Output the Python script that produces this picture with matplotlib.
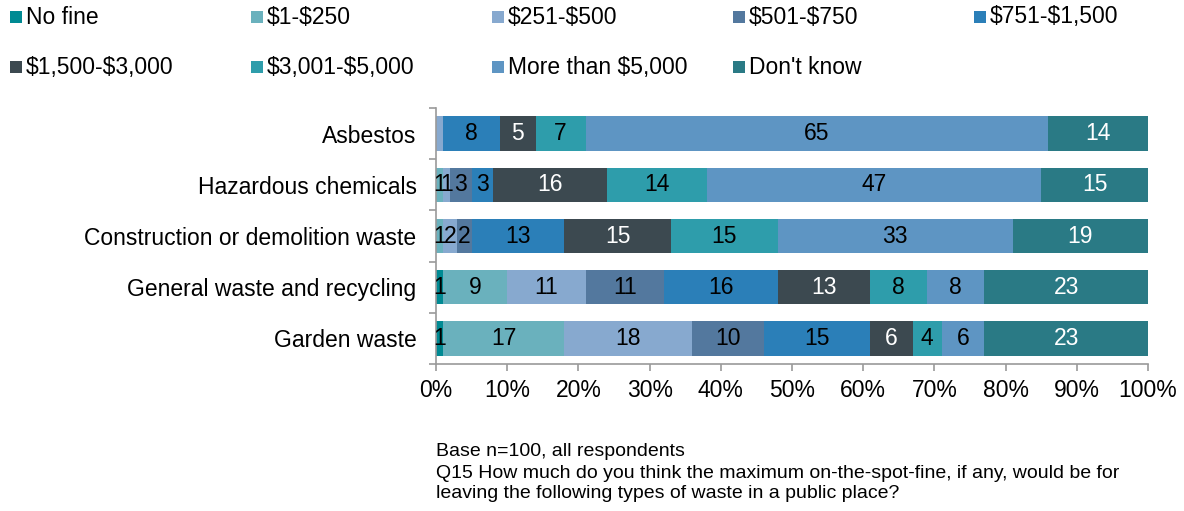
import numpy as np
import matplotlib
matplotlib.use("Agg")
import matplotlib.pyplot as plt
from matplotlib.patches import Rectangle

plt.rcParams['font.family'] = ['Liberation Sans', 'DejaVu Sans']
plt.rcParams['text.parse_math'] = False

# Categories, top to bottom
categories = ["Asbestos", "Hazardous chemicals", "Construction or demolition waste",
              "General waste and recycling", "Garden waste"]

# Fine bands
bands = ["No fine", "$1-$250", "$251-$500", "$501-$750", "$751-$1,500",
         "$1,500-$3,000", "$3,001-$5,000", "More than $5,000", "Don't know"]

# Percent of respondents per band, one list per band (order follows categories)
no_fine = [0, 0, 0, 1, 1]
fine_1_250 = [0, 1, 1, 9, 17]
fine_251_500 = [1, 1, 2, 11, 18]
fine_501_750 = [0, 3, 2, 11, 10]
fine_751_1500 = [8, 3, 13, 16, 15]
fine_1500_3000 = [5, 16, 15, 13, 6]
fine_3001_5000 = [7, 14, 15, 8, 4]
more_than_5000 = [65, 47, 33, 8, 6]
dont_know = [14, 15, 19, 23, 23]

series = [no_fine, fine_1_250, fine_251_500, fine_501_750, fine_751_1500,
          fine_1500_3000, fine_3001_5000, more_than_5000, dont_know]

colors = ["#008a93", "#6ab1bd", "#87a9cf", "#53789e", "#2b7fb8",
          "#3c4950", "#2e9dab", "#5e95c3", "#2a7a85"]
label_colors = ["black"] * 5 + ["white", "black", "black", "white"]

# labels left off on the chart
hidden = {(0, 2)}

fs = 16.5

fig = plt.figure(figsize=(11.84, 5.11), dpi=100)
W, H = 1184, 511
ax = fig.add_axes([436 / W, 1 - 364 / H, 712 / W, 256 / H])

y = np.arange(len(categories))
left = np.zeros(len(categories))
for j, (vals, col) in enumerate(zip(series, colors)):
    vals = np.array(vals, dtype=float)
    ax.barh(y, vals, left=left, height=0.67, color=col, edgecolor='none')
    for i, v in enumerate(vals):
        if v > 0 and (i, j) not in hidden:
            ax.text(left[i] + v / 2, y[i], f"{int(v)}", ha='center', va='center',
                    fontsize=fs, color=label_colors[j])
    left += vals

ax.set_xlim(0, 100)
ax.set_ylim(len(categories) - 0.5, -0.5)

ax.set_xticks(np.arange(0, 101, 10))
ax.set_xticklabels([f"{t}%" for t in range(0, 101, 10)], fontsize=fs)
ax.set_yticks(y)
ax.set_yticklabels(categories, fontsize=fs)
ax.set_yticks(np.arange(-0.5, len(categories)), minor=True)
ax.tick_params(axis='y', which='major', length=0, pad=14)
ax.tick_params(axis='y', which='minor', length=5, color='#9a9a9a', width=1.2)
ax.tick_params(axis='x', length=5, color='#9a9a9a', width=1.2, pad=6)

for s in ['top', 'right']:
    ax.spines[s].set_visible(False)
for s in ['left', 'bottom']:
    ax.spines[s].set_color('#9a9a9a')
    ax.spines[s].set_linewidth(1.2)

# Legend laid out in two rows like the original report
legend_x = [10, 251, 492, 733, 974]
legend_y = [17, 67]
for k, (name, col) in enumerate(zip(bands, colors)):
    r, c = divmod(k, 5)
    x0, y0 = legend_x[c], legend_y[r]
    fig.add_artist(Rectangle(((x0) / W, 1 - (y0 + 6) / H), 12 / W, 12 / H,
                             transform=fig.transFigure, color=col, lw=0))
    fig.text((x0 + 16) / W, 1 - y0 / H, name, fontsize=fs, va='center', ha='left')

notes = ["Base n=100, all respondents",
         "Q15 How much do you think the maximum on-the-spot-fine, if any, would be for",
         "leaving the following types of waste in a public place?"]
for k, line in enumerate(notes):
    fig.text(436 / W, 1 - (452 + 21 * k) / H, line, fontsize=14, va='center', ha='left')

fig.savefig("out.png", dpi=100)
